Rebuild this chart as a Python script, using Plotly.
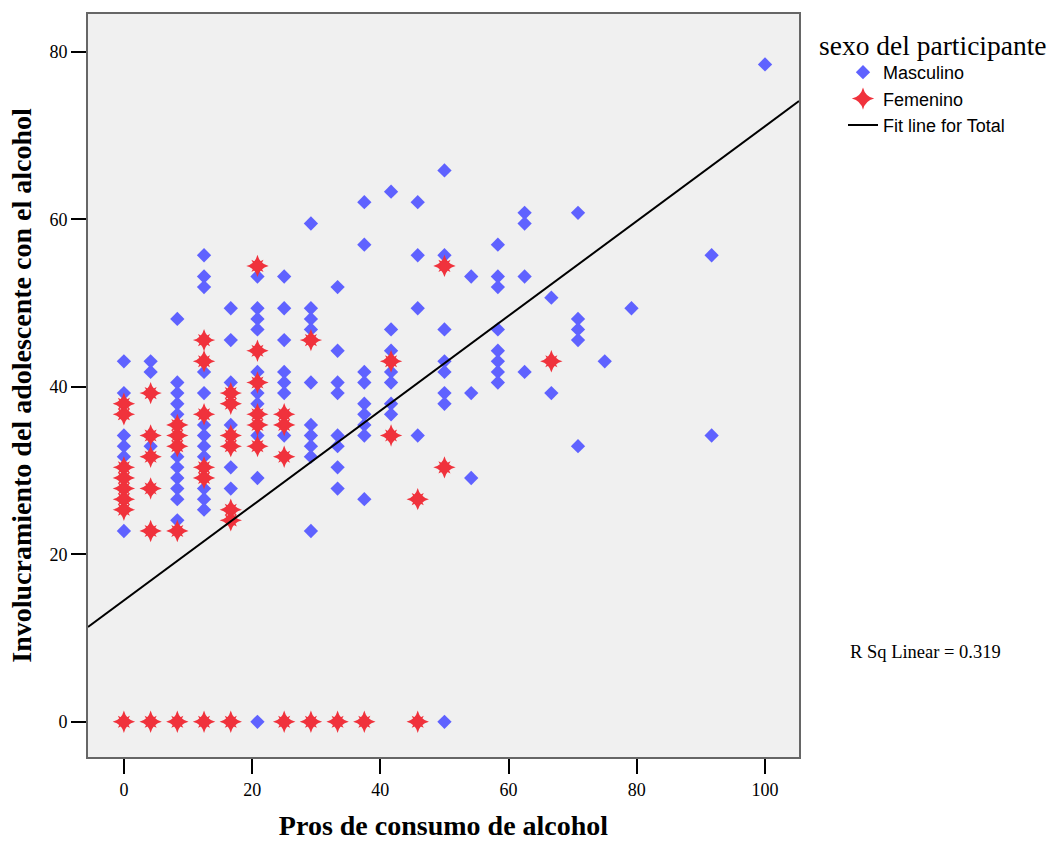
import plotly.graph_objects as go

# Masculino (x = pros de consumo, y = involucramiento)
masc_x = [0, 0, 0, 0, 0, 0, 0, 0,
          4.17, 4.17, 4.17,
          8.33, 8.33, 8.33, 8.33, 8.33, 8.33, 8.33, 8.33, 8.33, 8.33, 8.33,
          12.5, 12.5, 12.5, 12.5, 12.5, 12.5, 12.5, 12.5, 12.5, 12.5, 12.5, 12.5, 12.5,
          16.67, 16.67, 16.67, 16.67, 16.67, 16.67, 16.67,
          20.83, 20.83, 20.83, 20.83, 20.83, 20.83, 20.83, 20.83, 20.83, 20.83,
          25, 25, 25, 25, 25, 25, 25,
          29.17, 29.17, 29.17, 29.17, 29.17, 29.17, 29.17, 29.17, 29.17, 29.17,
          33.33, 33.33, 33.33, 33.33, 33.33, 33.33, 33.33, 33.33,
          37.5, 37.5, 37.5, 37.5, 37.5, 37.5, 37.5, 37.5, 37.5,
          41.67, 41.67, 41.67, 41.67, 41.67, 41.67, 41.67,
          45.83, 45.83, 45.83, 45.83,
          50, 50, 50, 50, 50, 50, 50, 50,
          54.17, 54.17, 54.17,
          58.33, 58.33, 58.33, 58.33, 58.33, 58.33, 58.33, 58.33,
          62.5, 62.5, 62.5, 62.5,
          66.67, 66.67,
          70.83, 70.83, 70.83, 70.83, 70.83,
          75, 79.17, 91.67, 91.67, 100]
masc_y = [43.04, 39.24, 34.18, 32.91, 31.65, 26.58, 22.78, 0,
          43.04, 41.77, 32.91,
          48.10, 40.51, 39.24, 37.97, 36.71, 31.65, 30.38, 29.11, 27.85, 26.58, 24.05,
          55.70, 53.16, 51.90, 41.77, 39.24, 35.44, 34.18, 32.91, 31.65, 27.85, 26.58, 25.32, 0,
          49.37, 45.57, 40.51, 35.44, 30.38, 27.85, 0,
          53.16, 49.37, 48.10, 46.84, 41.77, 39.24, 37.97, 34.18, 29.11, 0,
          53.16, 49.37, 45.57, 41.77, 40.51, 39.24, 34.18,
          59.49, 49.37, 48.10, 46.84, 40.51, 35.44, 34.18, 32.91, 31.65, 22.78,
          51.90, 44.30, 40.51, 39.24, 34.18, 32.91, 30.38, 27.85,
          62.03, 56.96, 41.77, 40.51, 37.97, 36.71, 35.44, 34.18, 26.58,
          63.29, 46.84, 44.30, 41.77, 40.51, 37.97, 36.71,
          62.03, 55.70, 49.37, 34.18,
          65.82, 55.70, 46.84, 43.04, 41.77, 39.24, 37.97, 0,
          53.16, 39.24, 29.11,
          56.96, 53.16, 51.90, 46.84, 44.30, 43.04, 41.77, 40.51,
          60.76, 59.49, 53.16, 41.77,
          50.63, 39.24,
          60.76, 48.10, 46.84, 45.57, 32.91,
          43.04, 49.37, 55.70, 34.18, 78.48]

# Femenino
fem_x = [0, 0, 0, 0, 0, 0, 0, 0,
         4.17, 4.17, 4.17, 4.17, 4.17, 4.17,
         8.33, 8.33, 8.33, 8.33, 8.33,
         12.5, 12.5, 12.5, 12.5, 12.5, 12.5,
         16.67, 16.67, 16.67, 16.67, 16.67, 16.67, 16.67,
         20.83, 20.83, 20.83, 20.83, 20.83, 20.83,
         25, 25, 25, 25,
         29.17, 29.17,
         33.33, 37.5,
         41.67, 41.67,
         45.83, 45.83,
         50, 50,
         66.67]
fem_y = [37.97, 36.71, 30.38, 29.11, 27.85, 26.58, 25.32, 0,
         39.24, 34.18, 31.65, 27.85, 22.78, 0,
         35.44, 34.18, 32.91, 22.78, 0,
         45.57, 43.04, 36.71, 30.38, 29.11, 0,
         39.24, 37.97, 34.18, 32.91, 25.32, 24.05, 0,
         54.43, 44.30, 40.51, 36.71, 35.44, 32.91,
         36.71, 35.44, 31.65, 0,
         45.57, 0,
         0, 0,
         43.04, 34.18,
         26.58, 0,
         54.43, 30.38,
         43.04]

# Fit line for Total
fit_intercept = 14.5
fit_slope = 0.566
x_range = [-5.6, 105.3]
y_range = [-4.2, 84.5]
x_ticks = [0, 20, 40, 60, 80, 100]
y_ticks = [0, 20, 40, 60, 80]
r_sq_text = "R Sq Linear = 0.319"
legend_title = "sexo del participante"

BLUE = "#5f62ff"
RED = "#f0323c"
SERIF = "Liberation Serif, Times New Roman, serif"
SANS = "Liberation Sans, Arial, sans-serif"

# plot area in pixels
L, R, T, B = 88, 799, 14, 757
PW, PH = R - L, B - T


def px_x(px):
    return (px - L) / PW


def px_y(py):
    return (B - py) / PH


fig = go.Figure()
fig.add_trace(go.Scatter(
    x=masc_x, y=masc_y, mode="markers", name="Masculino",
    marker=dict(symbol="diamond", size=11, color=BLUE, line=dict(width=0)),
))
fig.add_trace(go.Scatter(
    x=fem_x, y=fem_y, mode="markers", name="Femenino", legendgroup="fem",
    marker=dict(symbol="star-diamond", size=16, color=RED, line=dict(width=0)),
))
fig.add_trace(go.Scatter(
    x=fem_x, y=fem_y, mode="markers", name="Femenino", legendgroup="fem",
    showlegend=False,
    marker=dict(symbol="star-square", size=11, color=RED, line=dict(width=0)),
))
fit_x = x_range
fit_y = [fit_intercept + fit_slope * v for v in fit_x]
fig.add_trace(go.Scatter(
    x=fit_x, y=fit_y, mode="lines", name="Fit line for Total",
    line=dict(color="black", width=2),
))

fig.add_annotation(
    x=px_x(925), y=px_y(652), xref="paper", yref="paper", text=r_sq_text,
    showarrow=False, xanchor="center", yanchor="middle",
    font=dict(family=SERIF, size=18.5, color="black"),
)
fig.add_annotation(
    x=px_x(817), y=px_y(45), xref="paper", yref="paper", text=legend_title,
    showarrow=False, xanchor="left", yanchor="middle",
    font=dict(family=SERIF, size=27.5, color="black"),
)

fig.update_layout(
    width=1054, height=841,
    margin=dict(l=L, r=1054 - R, t=T, b=841 - B, autoexpand=False),
    paper_bgcolor="white",
    plot_bgcolor="#f0f0f0",
    font=dict(family=SERIF, size=18, color="black"),
    showlegend=True,
    legend=dict(
        x=px_x(843), y=px_y(54), xanchor="left", yanchor="top",
        font=dict(family=SANS, size=18),
        bgcolor="rgba(0,0,0,0)",
        tracegroupgap=0,
        itemsizing="trace",
    ),
    xaxis=dict(
        range=x_range, tickvals=x_ticks, showgrid=False, zeroline=False,
        automargin=False,
        ticks="outside", ticklen=15, tickwidth=2, tickcolor="black",
        showline=True, linecolor="#666666", mirror=True, linewidth=2,
        tickfont=dict(family=SERIF, size=18),
        title=dict(text="<b>Pros de consumo de alcohol</b>",
                   font=dict(family=SERIF, size=28), standoff=18),
    ),
    yaxis=dict(
        range=y_range, tickvals=y_ticks, showgrid=False, zeroline=False,
        automargin=False,
        ticks="outside", ticklen=15, tickwidth=2, tickcolor="black",
        showline=True, linecolor="#666666", mirror=True, linewidth=2,
        tickfont=dict(family=SERIF, size=18),
        title=dict(text="<b>Involucramiento del adolescente con el alcohol</b>",
                   font=dict(family=SERIF, size=28), standoff=10),
    ),
)

fig.write_html("out.html")
